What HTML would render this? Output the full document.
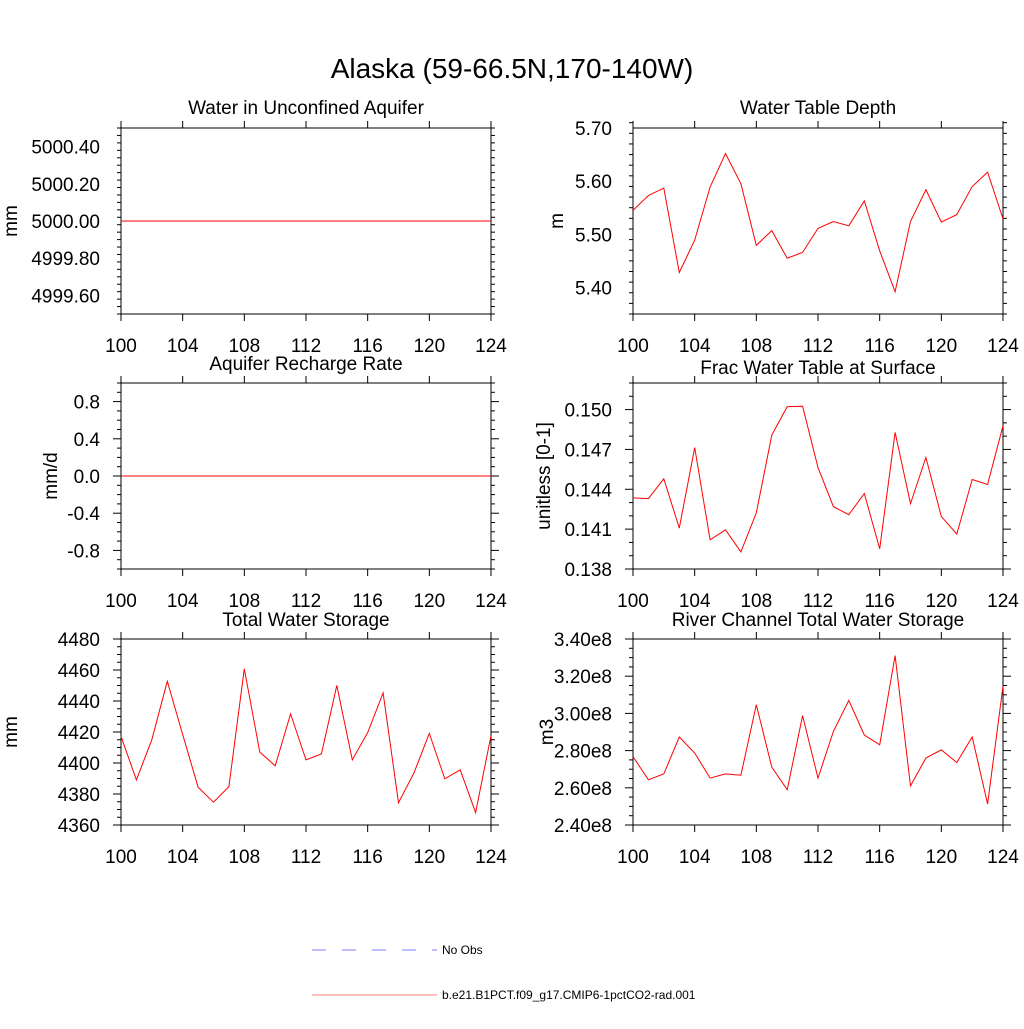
<!DOCTYPE html>
<html><head><meta charset="utf-8"><style>
body{margin:0;background:#fff;}
svg text{font-family:"Liberation Sans",Arial,sans-serif;fill:#000;}
</style></head><body>
<svg id="fig" width="1024" height="1024" viewBox="0 0 1024 1024" xmlns="http://www.w3.org/2000/svg">
<text x="512" y="78" font-size="28" text-anchor="middle">Alaska (59-66.5N,170-140W)</text>
<g>
<line x1="312" y1="950" x2="437" y2="950" stroke="#7f7fff" stroke-width="1" stroke-dasharray="14,16"/>
<text x="442" y="954" font-size="12">No Obs</text>
<line x1="312" y1="995" x2="437" y2="995" stroke="#ff8080" stroke-width="1"/>
<text x="442" y="999" font-size="12">b.e21.B1PCT.f09_g17.CMIP6-1pctCO2-rad.001</text>
</g>
</svg>
<script>
const years=[100,101,102,103,104,105,106,107,108,109,110,111,112,113,114,115,116,117,118,119,120,121,122,123,124];
const xTicks=[100,104,108,112,116,120,124];
const aquiferVals=[5000,5000,5000,5000,5000,5000,5000,5000,5000,5000,5000,5000,5000,5000,5000,5000,5000,5000,5000,5000,5000,5000,5000,5000,5000];
const aquiferTicks=["5000.40","5000.20","5000.00","4999.80","4999.60"];
const wtdVals=[5.545,5.573,5.587,5.428,5.489,5.589,5.652,5.595,5.479,5.507,5.455,5.466,5.511,5.524,5.516,5.563,5.469,5.392,5.524,5.584,5.523,5.537,5.590,5.617,5.529];
const wtdTicks=["5.70","5.60","5.50","5.40"];
const rechargeVals=[0,0,0,0,0,0,0,0,0,0,0,0,0,0,0,0,0,0,0,0,0,0,0,0,0];
const rechargeTicks=["0.8","0.4","0.0","-0.4","-0.8"];
const fracVals=[0.14335,0.1433,0.14479,0.14108,0.14714,0.1402,0.14095,0.13929,0.14222,0.14808,0.15022,0.15025,0.14563,0.1427,0.14209,0.14368,0.13952,0.14828,0.14292,0.14639,0.14196,0.14063,0.14474,0.14436,0.14878];
const fracTicks=["0.150","0.147","0.144","0.141","0.138"];
const twsVals=[4417.2,4389.1,4415,4452.8,4418.3,4384.4,4374.7,4384.8,4460.8,4407,4398.2,4431.7,4402,4405.8,4450,4402,4419.7,4445.2,4374.4,4393.5,4419.1,4389.8,4395.6,4368,4417.6];
const twsTicks=["4480","4460","4440","4420","4400","4380","4360"];
const riverVals=[2.768,2.643,2.675,2.873,2.787,2.652,2.675,2.668,3.047,2.711,2.589,2.988,2.652,2.903,3.070,2.884,2.831,3.311,2.610,2.760,2.804,2.736,2.873,2.513,3.146];
const riverTicks=["3.40e8","3.20e8","3.00e8","2.80e8","2.60e8","2.40e8"];

const NS="http://www.w3.org/2000/svg";
const svg=document.getElementById('fig');
function mk(tag,attrs,parent){const e=document.createElementNS(NS,tag);for(const k in attrs)e.setAttribute(k,attrs[k]);(parent||svg).appendChild(e);return e;}

const panels=[
 {id:'aquifer',title:'Water in Unconfined Aquifer',ylab:'mm',x0:121,y0:128,vals:aquiferVals,ticks:aquiferTicks,scale:1,ymin:4999.5,ymax:5000.5,tickStart:4999.6,major:0.2,minor:0.04,ty:107,lx:10},
 {id:'wtd',title:'Water Table Depth',ylab:'m',x0:633,y0:128,vals:wtdVals,ticks:wtdTicks,scale:1,ymin:5.35,ymax:5.70,tickStart:5.40,major:0.1,minor:0.02,ty:107,lx:556},
 {id:'recharge',title:'Aquifer Recharge Rate',ylab:'mm/d',x0:121,y0:383,vals:rechargeVals,ticks:rechargeTicks,scale:1,ymin:-1,ymax:1,tickStart:-0.8,major:0.4,minor:0.1,ty:363,lx:50},
 {id:'frac',title:'Frac Water Table at Surface',ylab:'unitless [0-1]',x0:633,y0:383,vals:fracVals,ticks:fracTicks,scale:1,ymin:0.138,ymax:0.152,tickStart:0.138,major:0.003,minor:0.001,ty:367,lx:543},
 {id:'tws',title:'Total Water Storage',ylab:'mm',x0:121,y0:639,vals:twsVals,ticks:twsTicks,scale:1,ymin:4360,ymax:4480,tickStart:4360,major:20,minor:5,ty:619,lx:10},
 {id:'river',title:'River Channel Total Water Storage',ylab:'m3',x0:633,y0:639,vals:riverVals,ticks:riverTicks,scale:1e8,ymin:2.40,ymax:3.40,tickStart:2.40,major:0.2,minor:0.05,ty:619,lx:546}
];
const W=370,H=186;
panels.forEach(p=>{
 const g=mk('g',{});
 
 
 const xs=v=>p.x0+(v-100)/24*W;
 const ys=v=>p.y0+H-(v-p.ymin)/(p.ymax-p.ymin)*H;
 const tg=mk('g',{stroke:'#000','stroke-width':1},g);
 xTicks.forEach(t=>{const x=xs(t);
  mk('line',{x1:x,x2:x,y1:p.y0,y2:p.y0-7},tg);
  mk('line',{x1:x,x2:x,y1:p.y0+H,y2:p.y0+H+7},tg);
  const lab=mk('text',{x:x,y:p.y0+H+38,'font-size':19,'text-anchor':'middle'},g);
  
  
  lab.textContent=t;});
 const n=Math.round((p.ymax-p.ymin)/p.minor);
 for(let i=0;i<=n;i++){const v=p.ymin+i*p.minor;const y=ys(v);
  const rel=(v-p.tickStart)/p.major;const isMaj=Math.abs(rel-Math.round(rel))<1e-6;const L=isMaj?8:4;
  mk('line',{x1:p.x0,x2:p.x0-L,y1:y,y2:y},tg);
  mk('line',{x1:p.x0+W,x2:p.x0+W+L,y1:y,y2:y},tg);}
 p.ticks.forEach(t=>{const v=Number(t)/p.scale;const y=ys(v);
  const lab=mk('text',{x:p.x0-21,y:y+7,'font-size':19,'text-anchor':'end'},g);
  
  
  lab.textContent=t;});
 const fr=mk('rect',{x:p.x0,y:p.y0,width:W,height:H,fill:'none',stroke:'#000','stroke-width':1},g);
 
 
 const tt=mk('text',{x:p.x0+W/2,y:p.ty+7,'font-size':19,'text-anchor':'middle'},g);
 
 
 tt.textContent=p.title;
 const yl=mk('text',{x:p.lx,y:p.y0+H/2,'font-size':19,'text-anchor':'middle',transform:`rotate(-90 ${p.lx} ${p.y0+H/2})`,dy:7},g);
 
 
 yl.textContent=p.ylab;
 const pts=p.vals.map((v,i)=>xs(years[i]).toFixed(1)+','+ys(v).toFixed(1)).join(' ');
 const line=mk('polyline',{points:pts,fill:'none',stroke:'#ff0000','stroke-width':1},g);
 
 
});
</script>
</body></html>
